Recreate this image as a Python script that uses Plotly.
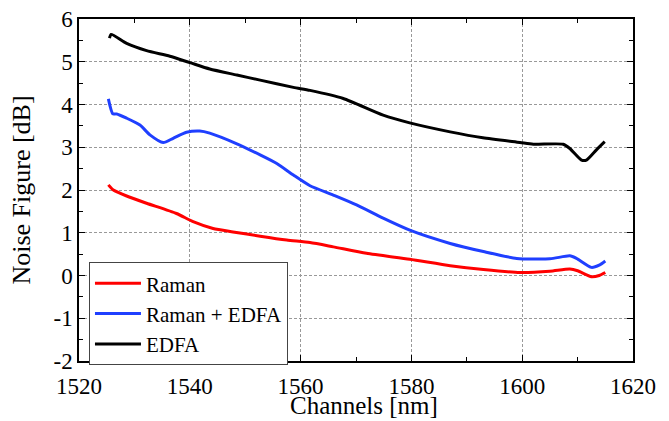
import plotly.graph_objects as go

# Wavelength samples [nm] and noise figure [dB] for each amplifier setup
raman_x = [1525.3, 1526.2, 1528.6, 1532.2, 1537.6, 1540.6, 1544.2, 1547.8, 1552.7,
           1557.5, 1561.7, 1565.9, 1571.9, 1579.7, 1587.0, 1593.0, 1599.6, 1605.0,
           1608.6, 1610.0, 1612.5, 1613.9, 1615.0]
raman_y = [2.12, 2.00, 1.86, 1.69, 1.45, 1.26, 1.10, 1.02, 0.92,
           0.83, 0.77, 0.67, 0.52, 0.38, 0.23, 0.14, 0.07, 0.10,
           0.15, 0.11, -0.03, 0.00, 0.07]

hybrid_x = [1525.3, 1526.1, 1526.8, 1528.6, 1531.0, 1532.8, 1535.2, 1537.0, 1539.4,
            1541.8, 1543.6, 1548.5, 1552.7, 1555.7, 1558.7, 1561.7, 1565.9, 1570.1,
            1574.9, 1579.7, 1587.0, 1593.0, 1599.0, 1605.0, 1608.6, 1609.8, 1612.5,
            1614.0, 1615.0]
hybrid_y = [4.13, 3.78, 3.78, 3.68, 3.52, 3.29, 3.11, 3.21, 3.35,
            3.38, 3.33, 3.08, 2.82, 2.62, 2.35, 2.10, 1.88, 1.65,
            1.34, 1.06, 0.75, 0.56, 0.40, 0.39, 0.46, 0.40, 0.19,
            0.25, 0.34]

edfa_x = [1525.5, 1525.8, 1528.6, 1532.2, 1536.4, 1540.0, 1543.6, 1548.5, 1552.7,
          1558.7, 1561.7, 1567.7, 1574.9, 1579.7, 1587.0, 1592.9, 1599.6, 1602.0,
          1607.4, 1608.6, 1610.7, 1611.6, 1613.4, 1614.9]
edfa_y = [5.55, 5.64, 5.43, 5.26, 5.13, 4.98, 4.83, 4.69, 4.57,
          4.40, 4.33, 4.14, 3.75, 3.57, 3.36, 3.22, 3.11, 3.07,
          3.07, 2.97, 2.70, 2.70, 2.94, 3.13]

# Tick positions and labels (plain hyphen for negatives)
x_ticks = [1520, 1540, 1560, 1580, 1600, 1620]
y_ticks = [-2, -1, 0, 1, 2, 3, 4, 5, 6]
y_labels = ["-2", "-1", "0", "1", "2", "3", "4", "5", "6"]

series = [
    ("Raman", raman_x, raman_y, "#ff0000"),
    ("Raman + EDFA", hybrid_x, hybrid_y, "#1f3fff"),
    ("EDFA", edfa_x, edfa_y, "#000000"),
]

fig = go.Figure()
for name, xs, ys, color in series:
    fig.add_trace(go.Scatter(
        x=xs, y=ys, name=name, mode="lines",
        line=dict(color=color, width=3, shape="spline", smoothing=0.6),
    ))

font = "Liberation Serif"
axis_common = dict(
    showline=True, linecolor="black", linewidth=1.5, mirror="ticks",
    ticks="inside", ticklen=6, tickwidth=1, tickcolor="black",
    showgrid=True, gridcolor="#999999", griddash="3px,2px", gridwidth=1,
    zeroline=False, automargin=False,
    tickfont=dict(family=font, size=23, color="black"),
)

fig.update_xaxes(
    range=[1520, 1620], tickmode="array", tickvals=x_ticks,
    ticklabelstandoff=4,
    minor=dict(dtick=10, ticks="inside", ticklen=4, tickcolor="black", showgrid=False),
    **axis_common,
)
fig.update_yaxes(
    range=[-2, 6], tickmode="array", tickvals=y_ticks, ticktext=y_labels,
    minor=dict(dtick=0.5, ticks="inside", ticklen=4, tickcolor="black", showgrid=False),
    title=dict(text="Noise Figure [dB]", font=dict(family=font, size=26, color="black")),
    **axis_common,
)

# X-axis title placed below the tick labels
fig.add_annotation(
    text="Channels [nm]", xref="paper", yref="paper",
    x=0.514, y=-0.13, xanchor="center", yanchor="middle",
    showarrow=False, font=dict(family=font, size=25, color="black"),
)

fig.update_layout(
    width=669, height=421,
    margin=dict(l=79, r=36, t=19, b=60),
    paper_bgcolor="white", plot_bgcolor="white",
    font=dict(family=font, size=21, color="black"),
    showlegend=True,
    legend=dict(
        x=0.018, y=0.289, xanchor="left", yanchor="top",
        bgcolor="white", bordercolor="#444444", borderwidth=1,
        font=dict(family=font, size=21, color="black"),
        tracegroupgap=0, itemwidth=46,
    ),
)

fig.write_html("out.html")
